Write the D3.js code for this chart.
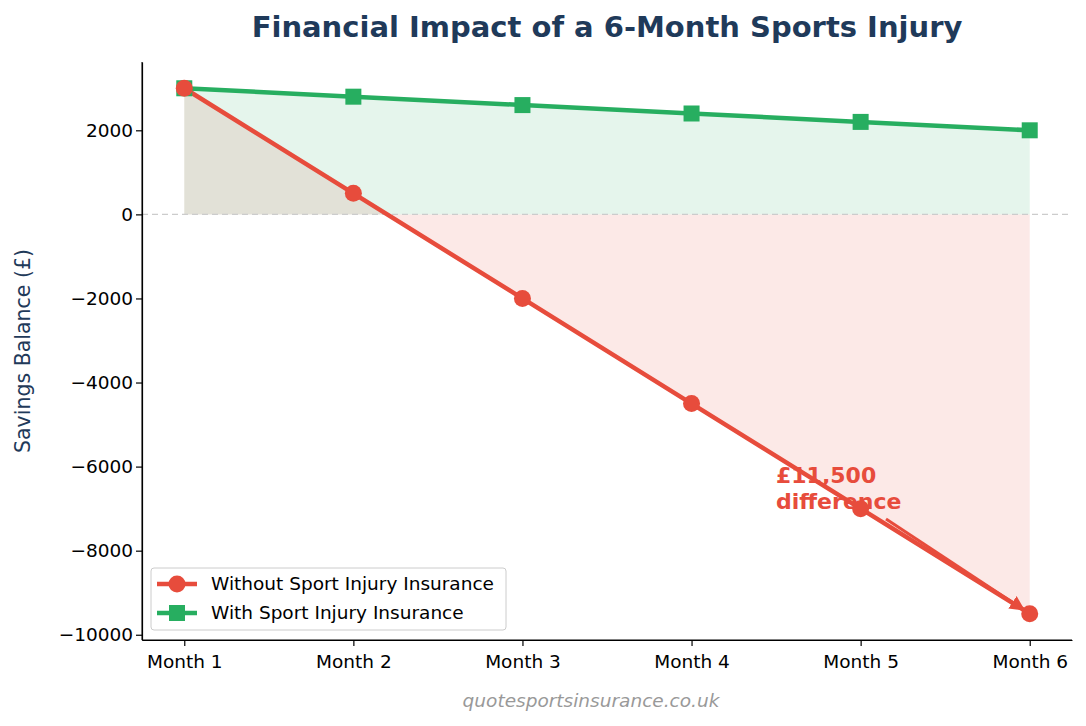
<!DOCTYPE html>
<html><head><meta charset="utf-8">
<script src="https://cdn.jsdelivr.net/npm/d3@7"></script>
<style>body{margin:0;background:#fff;font-family:"DejaVu Sans",sans-serif}</style>
</head><body><svg id="c" width="1086" height="726"></svg>
<script>
const months = ["Month 1","Month 2","Month 3","Month 4","Month 5","Month 6"]
const withoutIns = [3000, 500, -2000, -4500, -7000, -9500]
const withIns = [3000, 2800, 2600, 2400, 2200, 2000]
const yTicks = [2000, 0, -2000, -4000, -6000, -8000, -10000]

const red = '#e74c3c', green = '#27ae60', navy = '#1f3a5a'
const svg = d3.select('#c')
const L = 142, R = 1072, T = 62, B = 640
const x = d3.scaleLinear().domain([-0.25, 5.25]).range([L, R])
const y = d3.scaleLinear().domain([-10125, 3625]).range([B, T])

// fills
const area = d3.area().x((d, i) => x(i)).y0(y(0)).y1(d => y(d))
svg.append('path').attr('d', area(withoutIns)).attr('fill', red).attr('opacity', 0.12)
svg.append('path').attr('d', area(withIns)).attr('fill', green).attr('opacity', 0.12)

// zero line
svg.append('line').attr('x1', L).attr('x2', R).attr('y1', y(0)).attr('y2', y(0))
  .attr('stroke', '#ccc').attr('stroke-dasharray', '6,4').attr('stroke-width', 1.2)

// axes
const xa = svg.append('g').attr('transform', `translate(0,${B})`)
  .call(d3.axisBottom(x).tickValues(d3.range(6)).tickFormat(i => months[i]).tickSizeOuter(0))
const ya = svg.append('g').attr('transform', `translate(${L},0)`)
  .call(d3.axisLeft(y).tickValues(yTicks).tickFormat(d => d < 0 ? '\u2212' + (-d) : d).tickSizeOuter(0))
;[xa, ya].forEach(a => {
  a.selectAll('text').attr('font-size', 18.5).attr('font-family', 'DejaVu Sans').attr('fill', '#000')
  a.selectAll('line,path').attr('stroke', '#000').attr('stroke-width', 1.2)
})
xa.selectAll('text').attr('dy', '1.05em')
ya.append('path').attr('d', `M0,${T}V${B}`).attr('stroke', '#000')
xa.append('path').attr('d', `M${L},0H${R}`).attr('stroke', '#000')

// lines
const line = d3.line().x((d, i) => x(i)).y(d => y(d))
svg.append('path').attr('d', line(withIns)).attr('fill', 'none').attr('stroke', green).attr('stroke-width', 4.5)
svg.append('path').attr('d', line(withoutIns)).attr('fill', 'none').attr('stroke', red).attr('stroke-width', 4.5)
svg.selectAll('.sq').data(withIns).join('rect')
  .attr('x', (d, i) => x(i) - 8).attr('y', d => y(d) - 8).attr('width', 16).attr('height', 16).attr('fill', green)
svg.selectAll('.ci').data(withoutIns).join('circle')
  .attr('cx', (d, i) => x(i)).attr('cy', d => y(d)).attr('r', 8.5).attr('fill', red)

// annotation
svg.append('defs').append('marker').attr('id', 'ah').attr('viewBox', '0 0 10 10').attr('refX', 9).attr('refY', 5)
  .attr('markerWidth', 5).attr('markerHeight', 5).attr('orient', 'auto')
  .append('path').attr('d', 'M0,0L10,5L0,10z').attr('fill', red)
svg.append('line').attr('x1', 886).attr('y1', 519).attr('x2', x(5) - 6).attr('y2', y(-9500) - 4)
  .attr('stroke', red).attr('stroke-width', 3).attr('marker-end', 'url(#ah)')
const at = svg.append('text').attr('fill', red).attr('font-size', 22).attr('font-weight', 'bold')
at.append('tspan').attr('x', 776).attr('y', 483).text('£11,500')
at.append('tspan').attr('x', 776).attr('y', 509).text('difference')

// legend
const lg = svg.append('g')
lg.append('rect').attr('x', 151).attr('y', 568).attr('width', 355).attr('height', 62).attr('rx', 3)
  .attr('fill', '#fff').attr('fill-opacity', 0.8).attr('stroke', '#ccc')
;[['Without Sport Injury Insurance', red, 'c'], ['With Sport Injury Insurance', green, 's']].forEach((e, i) => {
  const cy = 584 + i * 29
  lg.append('line').attr('x1', 157).attr('x2', 197).attr('y1', cy).attr('y2', cy).attr('stroke', e[1]).attr('stroke-width', 4.5)
  if (e[2] == 'c') lg.append('circle').attr('cx', 177).attr('cy', cy).attr('r', 8.5).attr('fill', e[1])
  else lg.append('rect').attr('x', 169).attr('y', cy - 8).attr('width', 16).attr('height', 16).attr('fill', e[1])
  lg.append('text').attr('x', 211).attr('y', cy + 6).attr('font-size', 18.5).text(e[0])
})

// titles
svg.append('text').attr('x', 607).attr('y', 37).attr('text-anchor', 'middle').attr('font-size', 29)
  .attr('font-weight', 'bold').attr('fill', navy).text('Financial Impact of a 6-Month Sports Injury')
svg.append('text').attr('transform', `translate(30,${(T + B) / 2}) rotate(-90)`).attr('text-anchor', 'middle')
  .attr('font-size', 20.5).attr('fill', navy).text('Savings Balance (£)')
svg.append('text').attr('x', 591).attr('y', 707).attr('text-anchor', 'middle').attr('font-size', 18.5)
  .attr('font-style', 'italic').attr('fill', '#999').text('quotesportsinsurance.co.uk')
</script></body></html>
